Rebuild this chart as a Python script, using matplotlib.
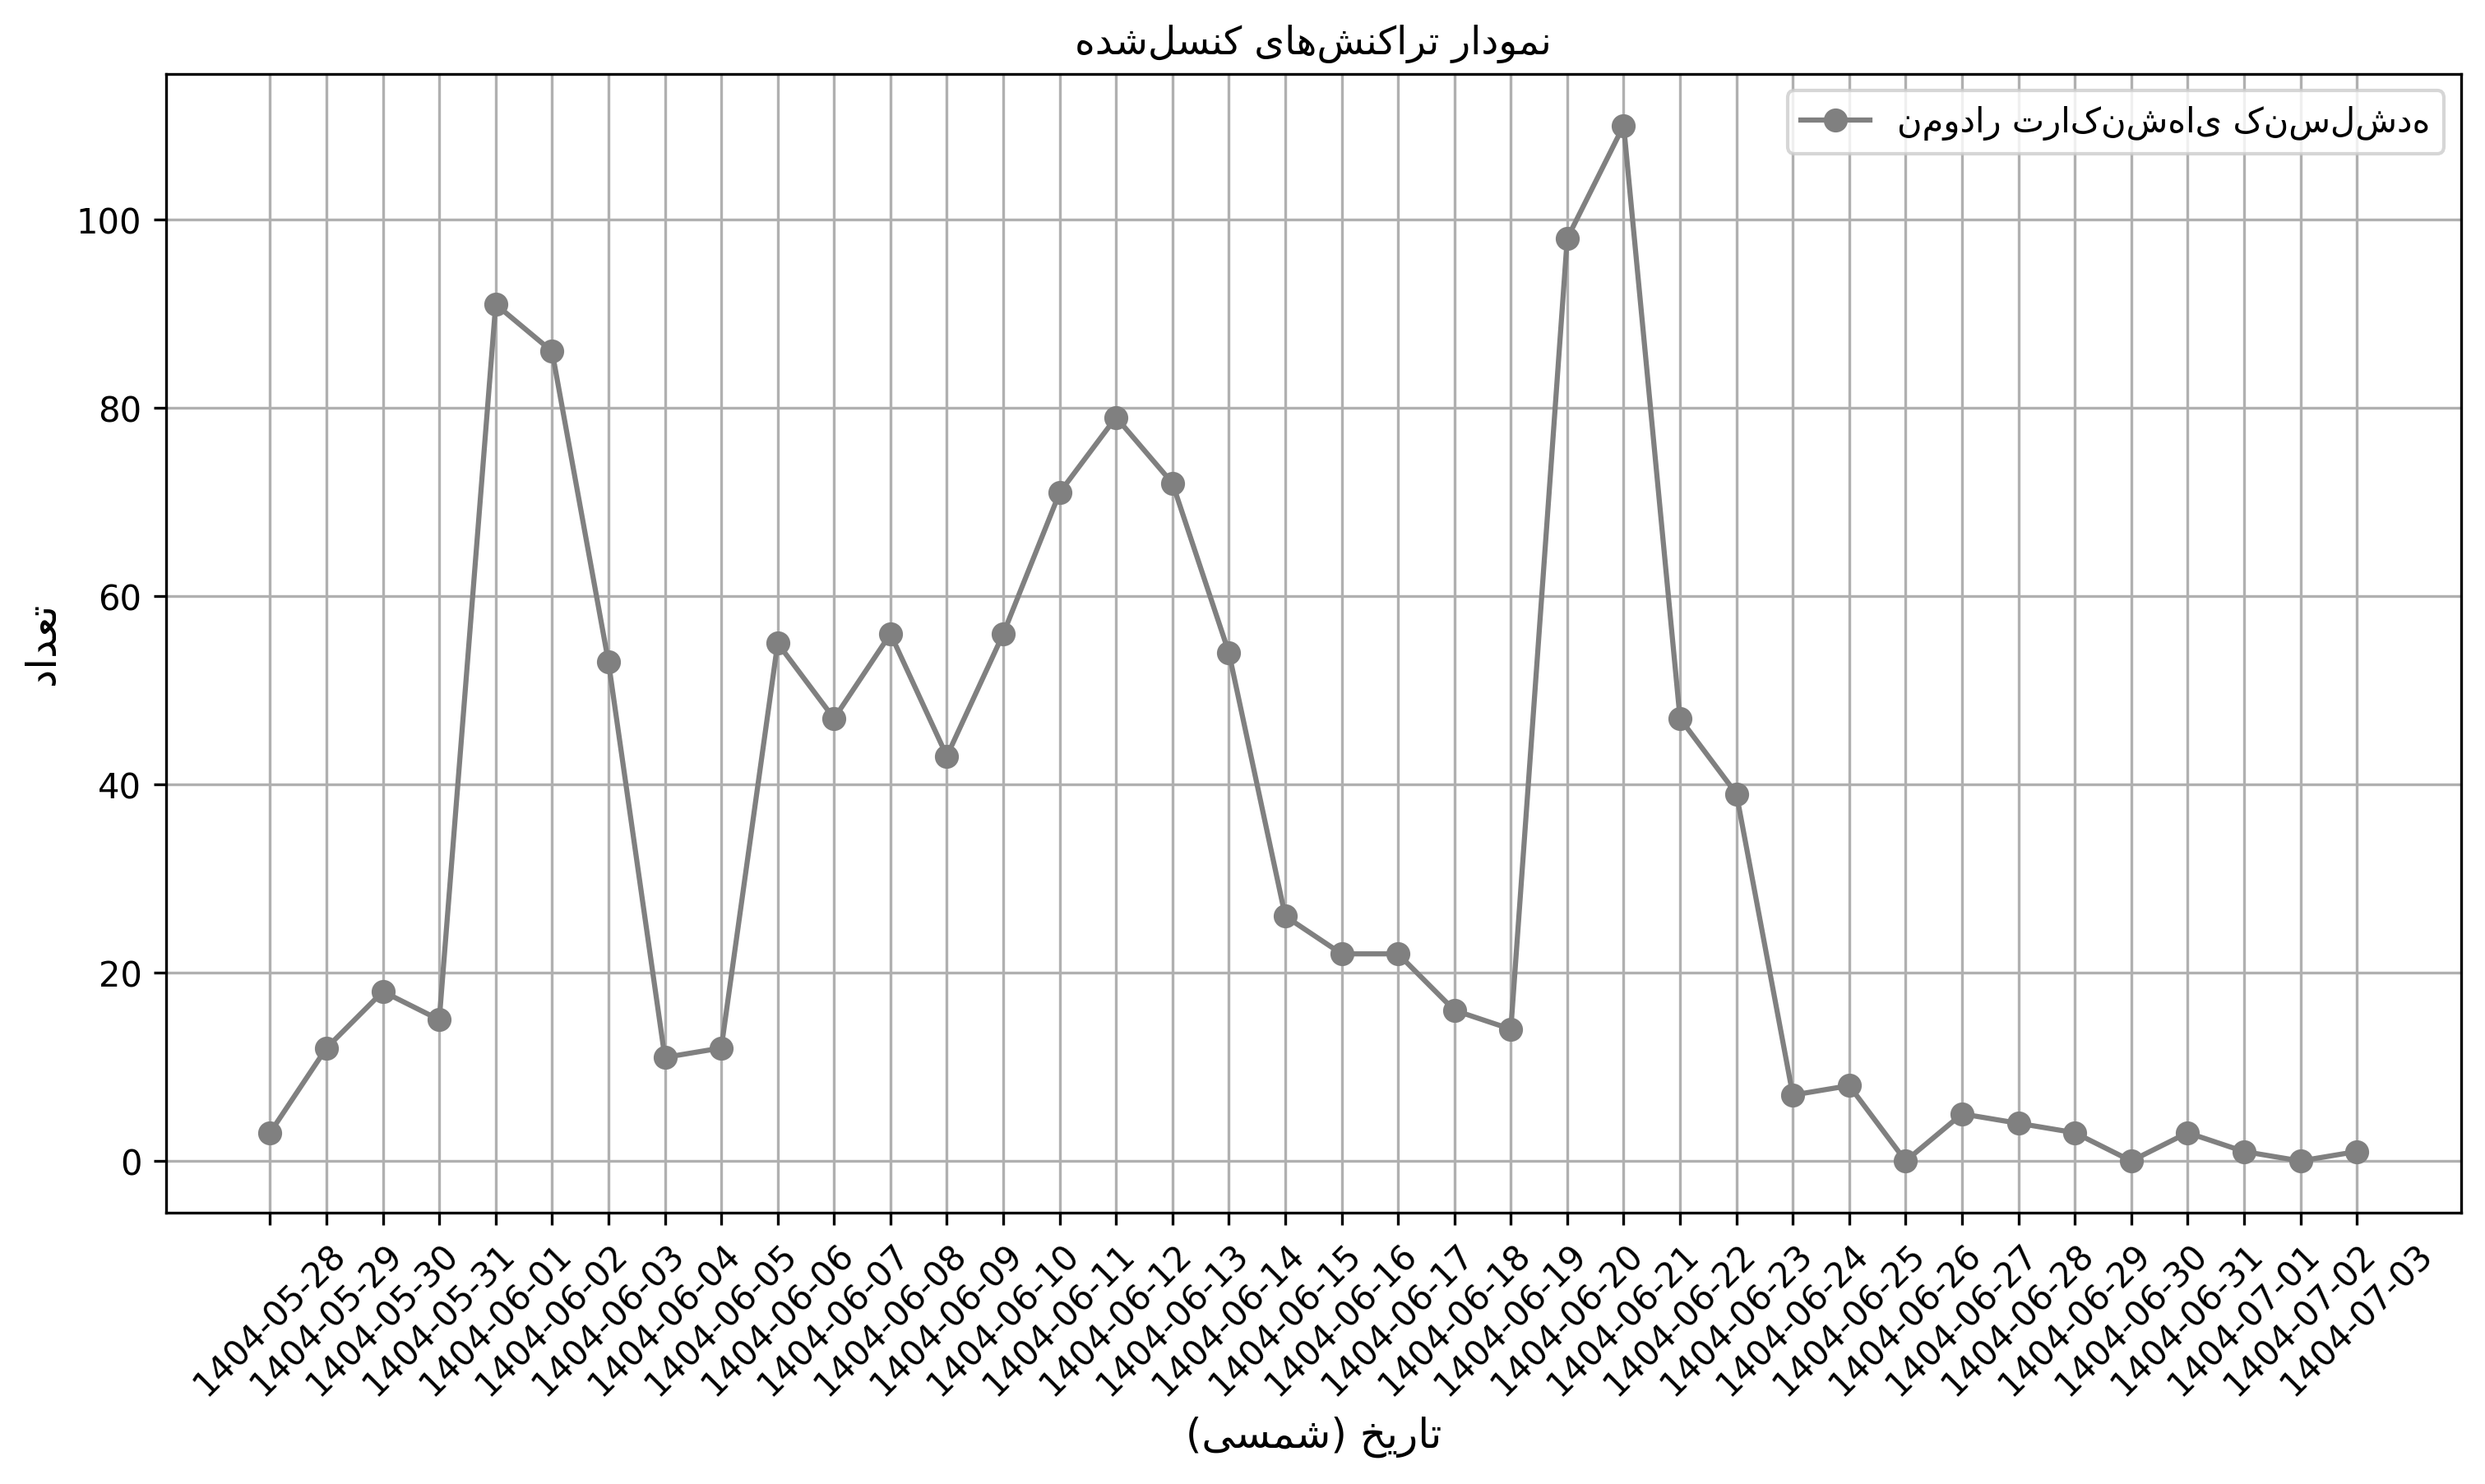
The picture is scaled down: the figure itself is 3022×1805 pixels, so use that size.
import numpy as np
import matplotlib
matplotlib.use("Agg")
import matplotlib.pyplot as plt

# داده‌ها
dates = ['1404-05-28', '1404-05-29', '1404-05-30', '1404-05-31',
         '1404-06-01', '1404-06-02', '1404-06-03', '1404-06-04', '1404-06-05',
         '1404-06-06', '1404-06-07', '1404-06-08', '1404-06-09', '1404-06-10',
         '1404-06-11', '1404-06-12', '1404-06-13', '1404-06-14', '1404-06-15',
         '1404-06-16', '1404-06-17', '1404-06-18', '1404-06-19', '1404-06-20',
         '1404-06-21', '1404-06-22', '1404-06-23', '1404-06-24', '1404-06-25',
         '1404-06-26', '1404-06-27', '1404-06-28', '1404-06-29', '1404-06-30',
         '1404-06-31', '1404-07-01', '1404-07-02', '1404-07-03']
counts = [3, 12, 18, 15, 91, 86, 53, 11, 12, 55, 47, 56, 43, 56, 71, 79, 72,
          54, 26, 22, 22, 16, 14, 98, 110, 47, 39, 7, 8, 0, 5, 4, 3, 0, 3, 1, 0, 1]

title_txt = 'نمودار تراکنش\u200cهای کنسل\u200cشده'
xlabel_txt = 'تاریخ (شمسی)'
ylabel_txt = 'تعداد'

# اشکال حروف: (تنها، پایانی، آغازی، میانی)
forms = {
    'ا': ('\uFE8D', '\uFE8E', None, None),
    'ت': ('\uFE95', '\uFE96', '\uFE97', '\uFE98'),
    'خ': ('\uFEA5', '\uFEA6', '\uFEA7', '\uFEA8'),
    'د': ('\uFEA9', '\uFEAA', None, None),
    'ر': ('\uFEAD', '\uFEAE', None, None),
    'س': ('\uFEB1', '\uFEB2', '\uFEB3', '\uFEB4'),
    'ش': ('\uFEB5', '\uFEB6', '\uFEB7', '\uFEB8'),
    'ع': ('\uFEC9', '\uFECA', '\uFECB', '\uFECC'),
    'ل': ('\uFEDD', '\uFEDE', '\uFEDF', '\uFEE0'),
    'م': ('\uFEE1', '\uFEE2', '\uFEE3', '\uFEE4'),
    'ن': ('\uFEE5', '\uFEE6', '\uFEE7', '\uFEE8'),
    'ه': ('\uFEE9', '\uFEEA', '\uFEEB', '\uFEEC'),
    'و': ('\uFEED', '\uFEEE', None, None),
    'ک': ('\uFB8E', '\uFB8F', '\uFB90', '\uFB91'),
    'ی': ('\uFBFC', '\uFBFD', '\uFBFE', '\uFBFF'),
}


def shape(text):
    # شکل‌دهی ساده و راست به چپ کردن متن فارسی
    out = []
    for i, ch in enumerate(text):
        if ch not in forms:
            if ch != '\u200c':
                out.append(ch)
            continue
        prev = text[i - 1] if i > 0 else ''
        nxt = text[i + 1] if i + 1 < len(text) else ''
        join_prev = prev in forms and forms[prev][2] is not None
        join_next = nxt in forms and forms[ch][2] is not None
        iso, fin, ini, med = forms[ch]
        if join_prev and join_next:
            out.append(med)
        elif join_prev:
            out.append(fin)
        elif join_next:
            out.append(ini)
        else:
            out.append(iso)
    mirror = {'(': ')', ')': '('}
    return ''.join(mirror.get(c, c) for c in reversed(out))


x = np.arange(len(dates))

fig = plt.figure(figsize=(3022 / 300, 1806 / 300), dpi=300)
ax = fig.add_axes([0.0667, 0.1827, 0.9237, 0.7671])
ax.plot(x, counts, marker='o', linestyle='-', color='gray', label=title_txt.replace('\u200c', ''))
ax.set_xticks(x)
ax.set_xticklabels(dates, rotation=45)
ax.set_xlabel(shape(xlabel_txt), fontsize=12)
ax.set_ylabel(shape(ylabel_txt), fontsize=12)
ax.set_title(shape(title_txt), fontsize=11.3)
ax.grid(True)
ax.legend()
fig.savefig('out.png', dpi=300)
